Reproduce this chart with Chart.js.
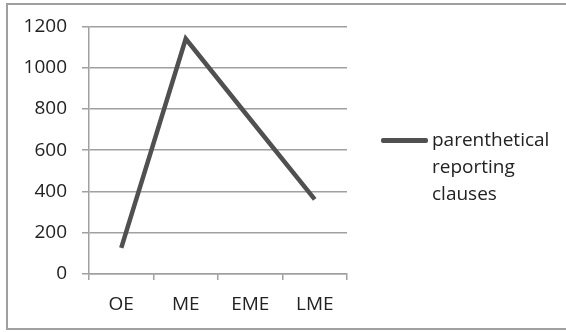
<!DOCTYPE html>
<html>
<head>
<meta charset="utf-8">
<script src="https://cdn.jsdelivr.net/npm/chart.js@4/dist/chart.umd.min.js"></script>
<style>
  html, body { margin: 0; padding: 0; background: #fff; }
  #wrap { position: relative; width: 566px; height: 332px; overflow: hidden; }
  #frame { position: absolute; left: 6px; top: 3px; width: 600px; height: 327px; border: 2px solid #a0a0a0; box-sizing: border-box; }
  #chart { position: absolute; left: 0; top: 0; }
  #legend { position: absolute; left: 381px; top: 126px; font-family: "Open Sans", sans-serif; font-size: 19px; line-height: 27px; color: #222; }
  #legend .item { display: flex; align-items: flex-start; }
  #legend .swatch { width: 47px; height: 5px; margin-top: 12px; margin-right: 4px; border-radius: 2px; }
</style>
</head>
<body>
<div id="wrap">
  <div id="frame"></div>
  <canvas id="chart" width="566" height="332"></canvas>
  <div id="legend"></div>
</div>
<script>
// Data
const categories = ['OE', 'ME', 'EME', 'LME'];
const clauseCounts = [127, 1140, 750, 362];
const seriesLabel = 'parenthetical reporting clauses';
const yTicks = [0, 200, 400, 600, 800, 1000, 1200];

const lineColor = '#505050';
const gridColor = '#a0a0a0';
const textColor = '#222';

Chart.defaults.font.family = '"Open Sans", sans-serif';
Chart.defaults.font.size = 19;
Chart.defaults.color = textColor;

const ctx = document.getElementById('chart');
const chart = new Chart(ctx, {
    type: 'line',
    data: {
        labels: categories,
        datasets: [{
            label: seriesLabel,
            data: clauseCounts,
            borderColor: lineColor,
            backgroundColor: lineColor,
            borderWidth: 4.5,
            pointRadius: 0,
            tension: 0,
            fill: false
        }]
    },
    options: {
        responsive: false,
        animation: false,
        layout: {
            padding: { top: 20, right: 219, bottom: 0, left: 0 }
        },
        plugins: {
            legend: { display: false },
            tooltip: { enabled: false }
        },
        scales: {
            x: {
                offset: true,
                afterFit: function(scale) { scale.height = 58; },
                grid: {
                    offset: true,
                    drawOnChartArea: false,
                    drawTicks: true,
                    tickLength: 6,
                    color: gridColor,
                    lineWidth: 1.5
                },
                border: { color: gridColor, width: 1.5 },
                ticks: { padding: 13, maxRotation: 0 }
            },
            y: {
                min: yTicks[0],
                max: yTicks[yTicks.length - 1],
                afterFit: function(scale) { scale.width = 89; },
                afterBuildTicks: function(scale) {
                    scale.ticks = yTicks.map(v => ({ value: v }));
                },
                grid: {
                    drawTicks: true,
                    tickLength: 7,
                    color: gridColor,
                    lineWidth: 1.5
                },
                border: { color: gridColor, width: 1.5 },
                ticks: {
                    padding: 15,
                    callback: v => String(v)
                }
            }
        }
    }
});

// HTML legend so the long label can wrap like the original
const legend = document.getElementById('legend');
chart.data.datasets.forEach(ds => {
    const item = document.createElement('div');
    item.className = 'item';
    const sw = document.createElement('div');
    sw.className = 'swatch';
    sw.style.background = ds.borderColor;
    const txt = document.createElement('div');
    txt.innerHTML = ds.label.split(' ').join('<br>');
    item.appendChild(sw);
    item.appendChild(txt);
    legend.appendChild(item);
});
</script>
</body>
</html>
